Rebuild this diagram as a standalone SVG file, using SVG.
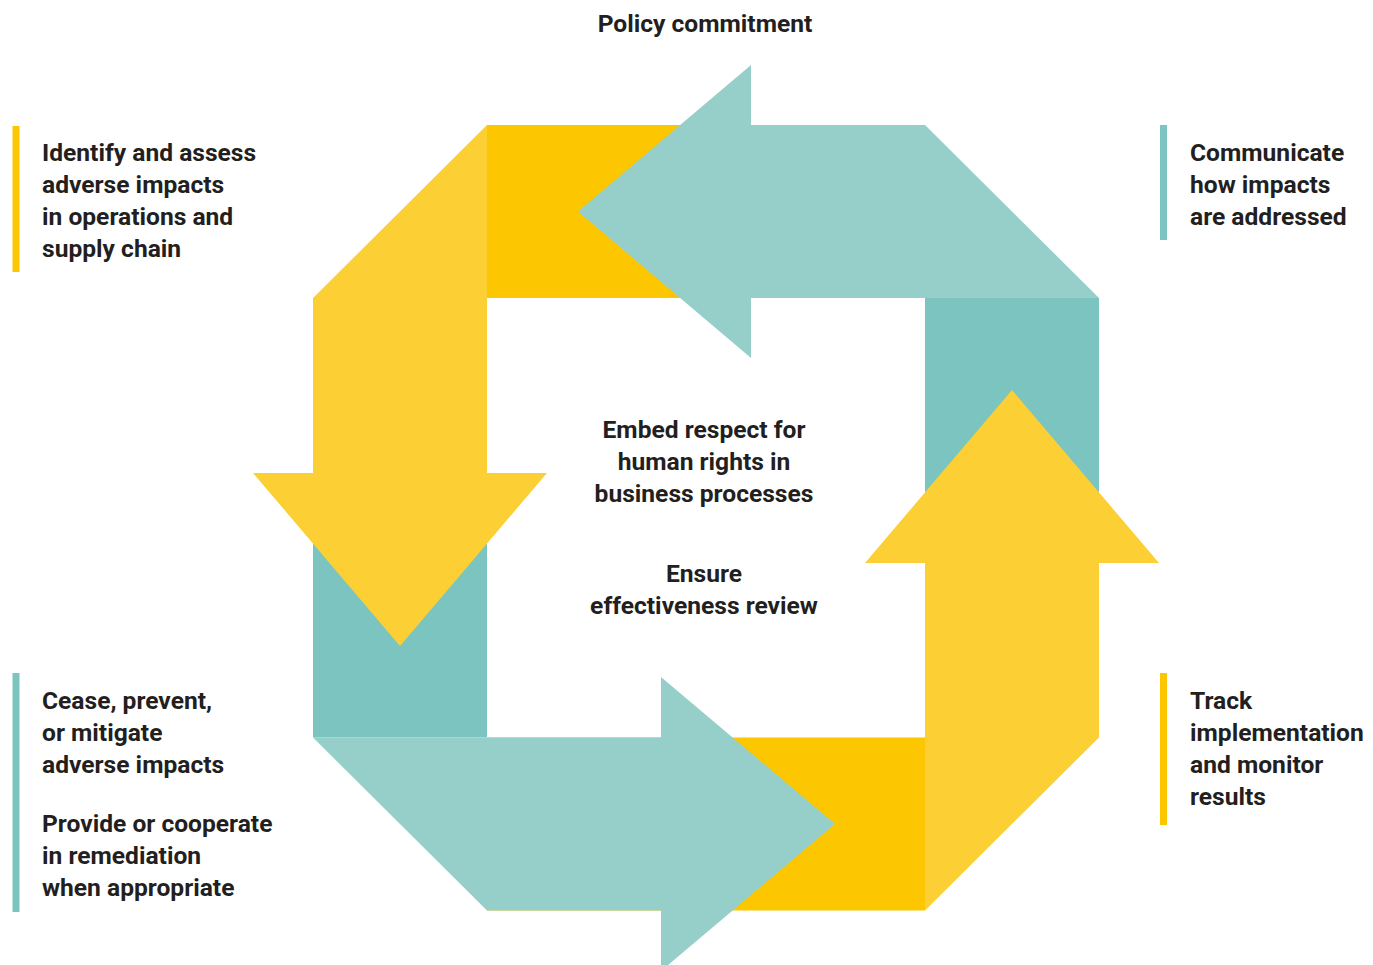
<svg xmlns="http://www.w3.org/2000/svg" width="1373" height="965" viewBox="0 0 1373 965">
  <style>
    .t { font-family: Roboto, "Liberation Sans", sans-serif; font-weight: 700; font-size: 24.6px; fill: #231f20; }
    .c { text-anchor: middle; }
    .ydark { fill: #fcc600; }
    .ylight { fill: #fcd034; }
    .tdark { fill: #7cc4bf; }
    .tlight { fill: #96cfca; }
  </style>
  <rect width="1373" height="965" fill="#ffffff"/>

  <g id="connectors">
    <!-- underlying corner blocks -->
    <rect class="ydark" x="487" y="125" width="438" height="173"/>
    <rect class="tdark" x="925" y="298" width="174" height="265"/>
    <rect class="ydark" x="487" y="737.5" width="438" height="173"/>
    <rect class="tdark" x="313" y="473" width="174" height="264.5"/>
    <!-- arrows -->
    <polygon id="arrow-top" class="tlight" points="925,125 1099,298 751,298 751,358 578,211.5 751,65 751,125"/>
    <polygon id="arrow-left" class="ylight" points="313,298 487,125 487,473 547,473 400,646 253,473 313,473"/>
    <polygon id="arrow-bottom" class="tlight" points="313,737.5 487,910.5 661,910.5 661,971 835,824 661,677 661,737.5"/>
    <polygon id="arrow-right" class="ylight" points="925,910.5 1099,737.5 1099,563 1159,563 1012,390 865,563 925,563"/>
  </g>

  <g id="policy">
    <text class="t c" x="705" y="32">Policy commitment</text>
  </g>

  <g id="center">
    <text class="t c" x="704" y="438">Embed respect for</text>
    <text class="t c" x="704" y="470">human rights in</text>
    <text class="t c" x="704" y="502">business processes</text>
    <text class="t c" x="704" y="582">Ensure</text>
    <text class="t c" x="704" y="614">effectiveness review</text>
  </g>

  <g id="identify">
    <rect x="12.5" y="126" width="7" height="146" fill="#fcc600"/>
    <text class="t" x="42" y="161">Identify and assess</text>
    <text class="t" x="42" y="193">adverse impacts</text>
    <text class="t" x="42" y="225">in operations and</text>
    <text class="t" x="42" y="257">supply chain</text>
  </g>

  <g id="communicate">
    <rect x="1160" y="125" width="7" height="115" fill="#7cc4bf"/>
    <text class="t" x="1190" y="161">Communicate</text>
    <text class="t" x="1190" y="193">how impacts</text>
    <text class="t" x="1190" y="225">are addressed</text>
  </g>

  <g id="cease">
    <rect x="12.5" y="673" width="7" height="239" fill="#7cc4bf"/>
    <text class="t" x="42" y="709">Cease, prevent,</text>
    <text class="t" x="42" y="741">or mitigate</text>
    <text class="t" x="42" y="773">adverse impacts</text>
    <text class="t" x="42" y="832">Provide or cooperate</text>
    <text class="t" x="42" y="864">in remediation</text>
    <text class="t" x="42" y="896">when appropriate</text>
  </g>

  <g id="track">
    <rect x="1160" y="673" width="7" height="152" fill="#fcc600"/>
    <text class="t" x="1190" y="709">Track</text>
    <text class="t" x="1190" y="741">implementation</text>
    <text class="t" x="1190" y="773">and monitor</text>
    <text class="t" x="1190" y="805">results</text>
  </g>
</svg>
